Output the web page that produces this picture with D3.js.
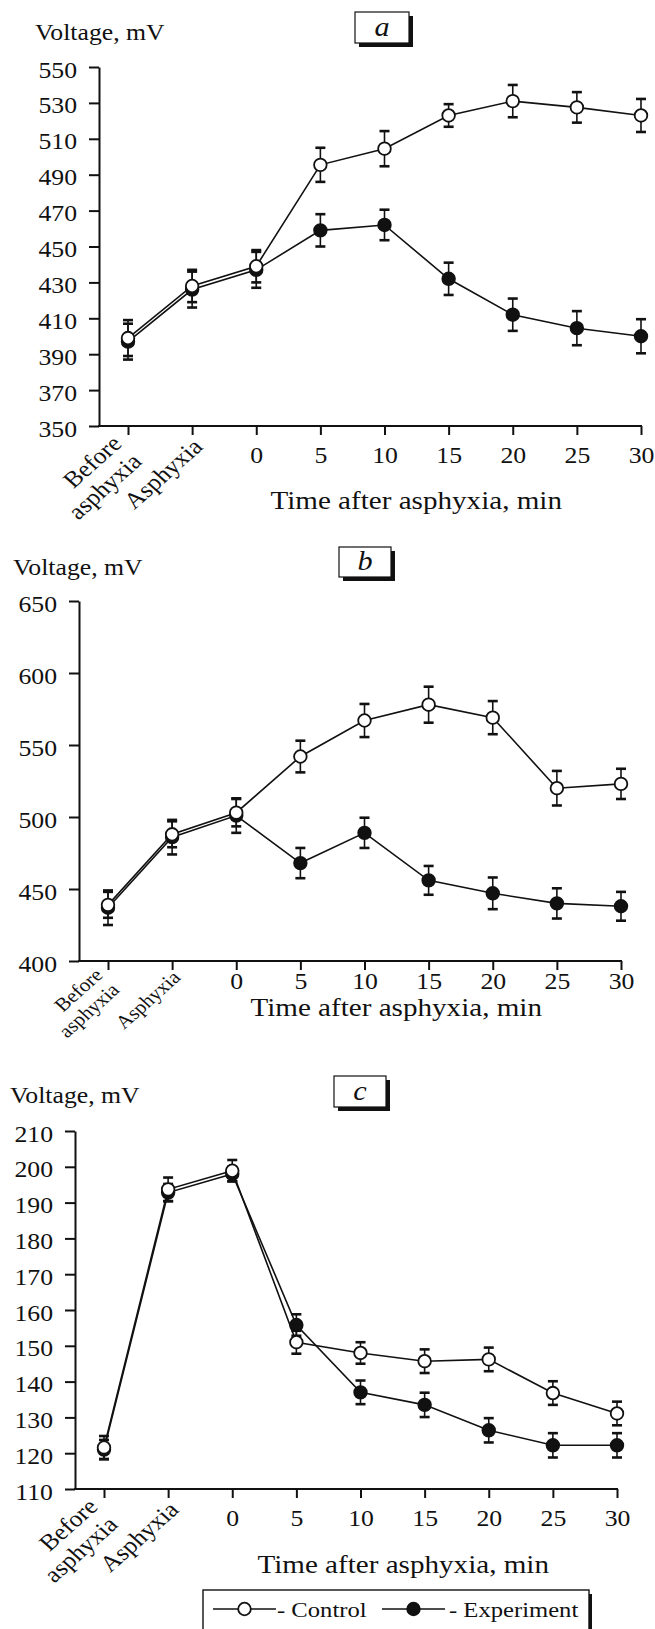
<!DOCTYPE html>
<html>
<head>
<meta charset="utf-8">
<script src="https://cdn.jsdelivr.net/npm/d3@7"></script>
<style>
  body { margin: 0; background: #fff; }
  svg text { font-family: "Liberation Serif", "Times New Roman", serif; fill: #111; }
</style>
</head>
<body>
<svg id="chart" width="655" height="1629"></svg>
<script>
// ── Data ─────────────────────────────────────────────────────────
const categories = ['Before asphyxia', 'Asphyxia', '0', '5', '10', '15', '20', '25', '30'];

const aTicks = [350, 370, 390, 410, 430, 450, 470, 490, 510, 530, 550];
const aControl = [399, 428, 439, 495.5, 504.5, 523, 531, 527.5, 523];
const aControlErr = [10, 9, 9, 9.5, 9.8, 6.3, 9, 8.5, 9.2];
const aExp = [397, 426, 437, 459, 462, 432, 412, 404.5, 400];
const aExpErr = [10, 10, 10, 9, 8.5, 9, 9, 9.5, 9.5];

const bTicks = [400, 450, 500, 550, 600, 650];
const bControl = [439, 488, 503, 542, 567, 578, 569, 520, 523];
const bControlErr = [9, 9, 9.5, 11, 11.5, 12.5, 11.5, 12, 10.5];
const bExp = [437, 486, 501, 468, 489, 456, 447, 440, 438];
const bExpErr = [12, 12, 12, 10.5, 10.5, 10, 11, 10.5, 10];

const cTicks = [110, 120, 130, 140, 150, 160, 170, 180, 190, 200, 210];
const cControl = [121.6, 193.7, 198.9, 151, 148, 145.7, 146.2, 136.8, 131.1];
const cControlErr = [3.2, 3.3, 3, 3.2, 3, 3.3, 3.3, 3.3, 3.3];
const cExp = [121, 192.8, 198, 155.8, 137, 133.5, 126.4, 122.2, 122.2];
const cExpErr = [2.7, 2.4, 2, 3, 3.3, 3.4, 3.4, 3.4, 3.4];

const legendLabels = ['- Control', '- Experiment'];

// ── Layout ───────────────────────────────────────────────────────
const SX = 1.12; // the scanned lettering is a little wider than Liberation Serif

const panels = [
  { letter: 'a', yTicks: aTicks, control: aControl, controlErr: aControlErr, exp: aExp, expErr: aExpErr,
    axisX: 99, yTop: 67, yBottom: 426, labelY: 40, labelX: 35, box: [355, 12, 54, 31],
    numDy: 37, titleDy: 83, titleEnd: 463, rot: 1, rotFont: 23 },
  { letter: 'b', yTicks: bTicks, control: bControl, controlErr: bControlErr, exp: bExp, expErr: bExpErr,
    axisX: 79, yTop: 601, yBottom: 961, labelY: 575, labelX: 13, box: [339, 547, 52, 30],
    numDy: 28, titleDy: 55, titleEnd: 463, rot: 0.8, rotFont: 19 },
  { letter: 'c', yTicks: cTicks, control: cControl, controlErr: cControlErr, exp: cExp, expErr: cExpErr,
    axisX: 75, yTop: 1131, yBottom: 1489, labelY: 1103, labelX: 10, box: [334, 1076, 52, 31],
    numDy: 37, titleDy: 84, titleEnd: 474, rot: 1, rotFont: 23 },
];

const svg = d3.select('#chart');

panels.forEach(drawPanel);
drawLegend();

function place(sel, x, y, extra = '') {
  return sel.attr('transform', `translate(${x},${y}) scale(${SX},1)${extra}`);
}

// ── Panel ────────────────────────────────────────────────────────
function drawPanel(p) {
  const g = svg.append('g');
  const x = d3.scalePoint().domain(categories).range([p.axisX + 29, p.axisX + 542]);
  const y = d3.scaleLinear().domain(d3.extent(p.yTicks)).range([p.yBottom, p.yTop]);

  // y axis
  const ya = g.append('g')
    .attr('transform', `translate(${p.axisX},0)`)
    .call(d3.axisLeft(y).tickValues(p.yTicks).tickSize(10).tickSizeOuter(0).tickPadding(12).tickFormat(d3.format('d')))
    .attr('font-family', null).attr('font-size', null);
  ya.select('.domain').attr('stroke', '#111').attr('stroke-width', 2);
  ya.selectAll('.tick line').attr('stroke', '#111').attr('stroke-width', 2);
  ya.selectAll('.tick text')
    .attr('font-size', 23).attr('dy', 10).attr('fill', '#111')
    .attr('x', -22 / SX).attr('transform', `scale(${SX},1)`);

  // x axis
  const xa = g.append('g')
    .attr('transform', `translate(0,${p.yBottom})`)
    .call(d3.axisBottom(x).tickSize(9).tickFormat(d => isNaN(+d) ? '' : d))
    .attr('font-family', null).attr('font-size', null);
  xa.select('.domain').remove();
  xa.selectAll('.tick line').attr('stroke', '#111').attr('stroke-width', 2);
  xa.selectAll('.tick text')
    .attr('font-size', 23).attr('y', p.numDy).attr('dy', 0).attr('fill', '#111')
    .attr('transform', `scale(${SX},1)`);
  g.append('line')
    .attr('x1', p.axisX - 1).attr('x2', x(categories[categories.length - 1]) + 1)
    .attr('y1', p.yBottom).attr('y2', p.yBottom)
    .attr('stroke', '#111').attr('stroke-width', 2);

  // rotated category labels
  const r = p.rot;
  const t0 = x(categories[0]);
  const before = place(g.append('text'), t0 - 5 * r, p.yBottom + 19 * r, ' rotate(-45)')
    .attr('font-size', p.rotFont)
    .attr('text-anchor', 'end');
  before.append('tspan').attr('x', 0).attr('dy', 0).text('Before');
  before.append('tspan').attr('x', 0).attr('dy', p.rotFont * 1.1).text('asphyxia');
  const t1 = x(categories[1]);
  place(g.append('text'), t1 + 12 * r, p.yBottom + 22 * r, ' rotate(-45)')
    .attr('font-size', p.rotFont)
    .attr('text-anchor', 'end')
    .text('Asphyxia');

  // x title
  place(g.append('text'), p.axisX + p.titleEnd, p.yBottom + p.titleDy)
    .attr('text-anchor', 'end')
    .attr('font-size', 26)
    .text('Time after asphyxia, min');

  // y title
  place(g.append('text'), p.labelX, p.labelY)
    .attr('font-size', 23)
    .text('Voltage, mV');

  // panel letter box
  const [bx, by, bw, bh] = p.box;
  g.append('rect').attr('x', bx + 4).attr('y', by + 4).attr('width', bw).attr('height', bh).attr('fill', '#111');
  g.append('rect').attr('x', bx).attr('y', by).attr('width', bw).attr('height', bh)
    .attr('fill', '#fff').attr('stroke', '#111').attr('stroke-width', 1.2);
  place(g.append('text'), bx + bw / 2, by + bh / 2 + 8)
    .attr('text-anchor', 'middle')
    .attr('font-size', 27).attr('font-style', 'italic')
    .text(p.letter);

  const line = d3.line().x((d, i) => x(categories[i])).y(d => y(d));

  // experiment first, control on top
  [[p.exp, p.expErr, '#111'], [p.control, p.controlErr, '#fff']].forEach(([vals, errs, fill]) => {
    g.append('path')
      .datum(vals)
      .attr('d', line)
      .attr('fill', 'none')
      .attr('stroke', '#111')
      .attr('stroke-width', 1.6);

    const eb = g.append('g').selectAll('g')
      .data(vals)
      .enter().append('g');
    eb.append('line')
      .attr('x1', (d, i) => x(categories[i])).attr('x2', (d, i) => x(categories[i]))
      .attr('y1', (d, i) => y(d - errs[i])).attr('y2', (d, i) => y(d + errs[i]))
      .attr('stroke', '#111').attr('stroke-width', 1.6);
    [-1, 1].forEach(s => {
      eb.append('line')
        .attr('x1', (d, i) => x(categories[i]) - 5).attr('x2', (d, i) => x(categories[i]) + 5)
        .attr('y1', (d, i) => y(d + s * errs[i])).attr('y2', (d, i) => y(d + s * errs[i]))
        .attr('stroke', '#111').attr('stroke-width', 2.6);
    });

    g.append('g').selectAll('circle')
      .data(vals)
      .enter().append('circle')
      .attr('cx', (d, i) => x(categories[i]))
      .attr('cy', d => y(d))
      .attr('r', 6.3)
      .attr('fill', fill)
      .attr('stroke', '#111')
      .attr('stroke-width', 1.8);
  });
}

// ── Legend ───────────────────────────────────────────────────────
function drawLegend() {
  const lg = svg.append('g');
  lg.append('rect').attr('x', 206).attr('y', 1594).attr('width', 386).attr('height', 50).attr('fill', '#111');
  lg.append('rect').attr('x', 203).attr('y', 1590).attr('width', 386).attr('height', 50)
    .attr('fill', '#fff').attr('stroke', '#111').attr('stroke-width', 1.4);

  const items = [
    { x0: 213, x1: 276, tx: 277, fill: '#fff' },
    { x0: 382, x1: 445, tx: 449, fill: '#111' },
  ];
  items.forEach((it, i) => {
    lg.append('line').attr('x1', it.x0).attr('x2', it.x1).attr('y1', 1609).attr('y2', 1609)
      .attr('stroke', '#111').attr('stroke-width', 1.6);
    lg.append('circle').attr('cx', (it.x0 + it.x1) / 2).attr('cy', 1609).attr('r', 6.3)
      .attr('fill', it.fill).attr('stroke', '#111').attr('stroke-width', 1.8);
    place(lg.append('text'), it.tx, 1617).attr('font-size', 22).text(legendLabels[i]);
  });
}
</script>
</body>
</html>
